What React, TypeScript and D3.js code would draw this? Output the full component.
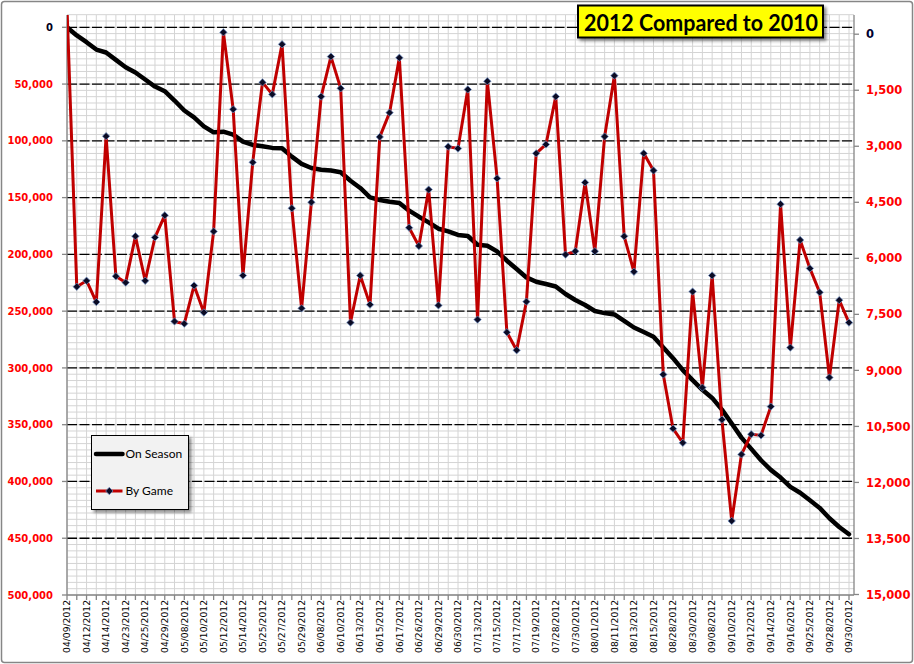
import React from "react";
import * as d3 from "d3";

// Date labels shown under every second game
const tickDates = [
  "04/09/2012", "04/12/2012", "04/14/2012", "04/23/2012", "04/25/2012", "04/29/2012",
  "05/08/2012", "05/10/2012", "05/12/2012", "05/14/2012", "05/25/2012", "05/27/2012",
  "05/29/2012", "06/08/2012", "06/10/2012", "06/13/2012", "06/15/2012", "06/17/2012",
  "06/26/2012", "06/29/2012", "06/30/2012", "07/13/2012", "07/15/2012", "07/17/2012",
  "07/19/2012", "07/28/2012", "07/30/2012", "08/01/2012", "08/11/2012", "08/13/2012",
  "08/15/2012", "08/28/2012", "08/30/2012", "09/08/2012", "09/10/2012", "09/12/2012",
  "09/14/2012", "09/16/2012", "09/25/2012", "09/28/2012", "09/30/2012",
];

// Cumulative attendance drop (left axis)
const onSeason = [
  0, 7200, 13100, 19600, 22200, 28700, 35200, 39800, 46000, 52200,
  56300, 64500, 73300, 79300, 87200, 92500, 91900, 94500, 100700, 103600,
  104800, 106200, 106600, 113900, 120300, 123900, 125400, 126200, 127700, 135100,
  141500, 149800, 152100, 153600, 154700, 161500, 166800, 171800, 177400, 179800,
  182900, 183800, 191500, 192400, 197400, 205600, 212900, 220300, 224100, 226100,
  228300, 234900, 240200, 244600, 249900, 251700, 252900, 258500, 264400, 268400,
  272600, 282000, 291400, 301900, 310800, 319300, 326400, 336700, 349000, 361400,
  371300, 381300, 389800, 396600, 404800, 409900, 416600, 423300, 432400, 440100,
  446500,
];

// Per-game attendance drop (right axis)
const byGame = [
  -700, 6760, 6600, 7170, 2730, 6480, 6650, 5410, 6600, 5440,
  4850, 7690, 7750, 6730, 7450, 5280, -50, 2010, 6460, 3430,
  1290, 1610, 270, 4660, 7340, 4500, 1670, 600, 1450, 7720,
  6460, 7240, 2750, 2100, 630, 5180, 5670, 4160, 7260, 3010,
  3060, 1480, 7640, 1260, 3860, 7980, 8460, 7160, 3190, 2950,
  1670, 5900, 5810, 3970, 5810, 2740, 1110, 5410, 6360, 3190,
  3650, 9110, 10560, 10940, 6890, 9460, 6460, 10320, 13030, 11250,
  10710, 10740, 9970, 4550, 8390, 5510, 6270, 6910, 9190, 7120,
  7720,
];

const leftTicks = [0, 50000, 100000, 150000, 200000, 250000, 300000, 350000, 400000, 450000, 500000];
const rightTicks = [0, 1500, 3000, 4500, 6000, 7500, 9000, 10500, 12000, 13500, 15000];

const titleText = "2012 Compared to 2010";
const legendLabels = ["On Season", "By Game"];

export default function App() {
  const W = 914;
  const H = 664;
  const plotLeft = 67;
  const plotRight = 854;
  const plotTop = 15;
  const plotBottom = 595;

  const games = d3.range(byGame.length);
  const x = d3.scalePoint<number>().domain(games).range([67, 849]);
  const yLeft = d3.scaleLinear().domain([0, 500000]).range([27.3, 595]);
  const yRight = d3.scaleLinear().domain([0, 15000]).range([34.2, 594.5]);

  const minorStep = 50000 / 9;
  const minorY = d3
    .range(-2, 91)
    .map((k) => yLeft(k * minorStep))
    .filter((y) => y >= plotTop - 0.5 && y <= plotBottom);

  const blackLine = d3
    .line<number>()
    .x((_, i) => x(i) as number)
    .y((d) => yLeft(d))(onSeason) as string;
  const redLine = d3
    .line<number>()
    .x((_, i) => x(i) as number)
    .y((d) => yRight(d))(byGame) as string;
  const marker = d3.symbol().type(d3.symbolSquare).size(27)() as string;

  const fmt = d3.format(",");
  const labelFont = "'DejaVu Sans', Verdana, sans-serif";
  const calibri = "Lato, 'Open Sans', sans-serif";

  return (
    <svg
      width={W}
      height={H}
      viewBox={`0 0 ${W} ${H}`}
      style={{ position: "absolute", left: 0, top: 0, display: "block", background: "#fff" }}
    >
      <defs>
        <clipPath id="plotClip">
          <rect x={plotLeft} y={plotTop} width={plotRight - plotLeft} height={plotBottom - plotTop} />
        </clipPath>
        <filter id="shadow" x="-20%" y="-20%" width="150%" height="160%">
          <feDropShadow dx="2.5" dy="2.5" stdDeviation="1.5" floodColor="#000" floodOpacity="0.45" />
        </filter>
      </defs>

      <rect x={1.5} y={1.5} width={W - 3} height={H - 3} rx={3} fill="#fff" stroke="#868686" strokeWidth={1.5} />

      {/* minor gridlines */}
      <g stroke="#d4d4d4" strokeWidth={1}>
        {minorY.map((y, i) => (
          <line key={"mh" + i} x1={plotLeft} x2={plotRight} y1={y} y2={y} />
        ))}
        {games.map((g) => (
          <line key={"mv" + g} x1={x(g)} x2={x(g)} y1={plotTop} y2={plotBottom} />
        ))}
      </g>

      {/* major dashed gridlines */}
      <g stroke="#000" strokeWidth={1.3} strokeDasharray="10,2.5">
        {leftTicks.slice(0, -1).map((v) => (
          <line key={"mj" + v} x1={plotLeft} x2={plotRight} y1={yLeft(v)} y2={yLeft(v)} />
        ))}
      </g>

      {/* axes */}
      <g stroke="#868686" strokeWidth={1.3}>
        <line x1={plotLeft} x2={plotLeft} y1={plotTop} y2={plotBottom} />
        <line x1={plotRight} x2={plotRight} y1={plotTop} y2={plotBottom} />
        <line x1={plotLeft} x2={plotRight} y1={plotBottom} y2={plotBottom} />
        {leftTicks.map((v) => (
          <line key={"lt" + v} x1={plotLeft - 5} x2={plotLeft} y1={yLeft(v)} y2={yLeft(v)} />
        ))}
        {rightTicks.map((v) => (
          <line key={"rt" + v} x1={plotRight} x2={plotRight + 5} y1={yRight(v)} y2={yRight(v)} />
        ))}
        {games.map((g) => (
          <line key={"xt" + g} x1={x(g)} x2={x(g)} y1={plotBottom} y2={plotBottom + 5} />
        ))}
      </g>

      {/* left labels */}
      <g fontFamily={labelFont} fontWeight="bold" fontSize={10} textAnchor="end">
        {leftTicks.map((v) => (
          <text key={"ll" + v} x={53} y={yLeft(v)} dy="0.36em" fill={v === 0 ? "#000020" : "#ff0000"}>
            {fmt(v)}
          </text>
        ))}
      </g>

      {/* right labels */}
      <g fontFamily={labelFont} fontWeight="bold" fontSize={11.5} textAnchor="start">
        {rightTicks.map((v) => (
          <text key={"rl" + v} x={866} y={yRight(v)} dy="0.36em" fill={v === 0 ? "#000030" : "#ff0000"}>
            {fmt(v)}
          </text>
        ))}
      </g>

      {/* x labels */}
      <g fontFamily={labelFont} fontSize={9.2} fill="#000">
        {tickDates.map((d, i) => (
          <text
            key={"xl" + i}
            transform={`translate(${x(i * 2)},600) rotate(-90)`}
            textAnchor="end"
            dy="0.35em"
          >
            {d}
          </text>
        ))}
      </g>

      {/* series */}
      <g clipPath="url(#plotClip)">
        <path d={blackLine} fill="none" stroke="#000" strokeWidth={4.5} strokeLinejoin="round" strokeLinecap="round" />
        <path d={redLine} fill="none" stroke="#c00000" strokeWidth={3} strokeLinejoin="round" />
        {byGame.map((v, i) => (
          <path
            key={"mk" + i}
            d={marker}
            transform={`translate(${x(i)},${yRight(v)}) rotate(45)`}
            fill="#0b0b24"
            stroke="#6d8fc4"
            strokeWidth={0.7}
          />
        ))}
      </g>

      {/* legend */}
      <g>
        <rect x={91.5} y={435.5} width={97} height={74} fill="#f2f2f2" stroke="#000" strokeWidth={1} filter="url(#shadow)" />
        <line x1={96} x2={122.5} y1={454} y2={454} stroke="#000" strokeWidth={4.5} strokeLinecap="round" />
        <line x1={96} x2={122.5} y1={491} y2={491} stroke="#c00000" strokeWidth={3} />
        <path d={marker} transform="translate(109.3,491) rotate(45)" fill="#0b0b24" stroke="#6d8fc4" strokeWidth={0.7} />
        <text x={125.5} y={454} dy="0.36em" fontFamily={calibri} fontSize={12} fill="#000">
          {legendLabels[0]}
        </text>
        <text x={125.5} y={491} dy="0.36em" fontFamily={calibri} fontSize={12} fill="#000">
          {legendLabels[1]}
        </text>
      </g>

      {/* title */}
      <g>
        <rect x={578} y={5.5} width={245} height={32} fill="#ffff00" stroke="#000" strokeWidth={2} filter="url(#shadow)" />
        <text
          x={584}
          y={31}
          fontFamily={calibri}
          fontWeight="bold"
          fontSize={23}
          fill="#000"
          textLength={234}
          lengthAdjust="spacingAndGlyphs"
        >
          {titleText}
        </text>
      </g>
    </svg>
  );
}
